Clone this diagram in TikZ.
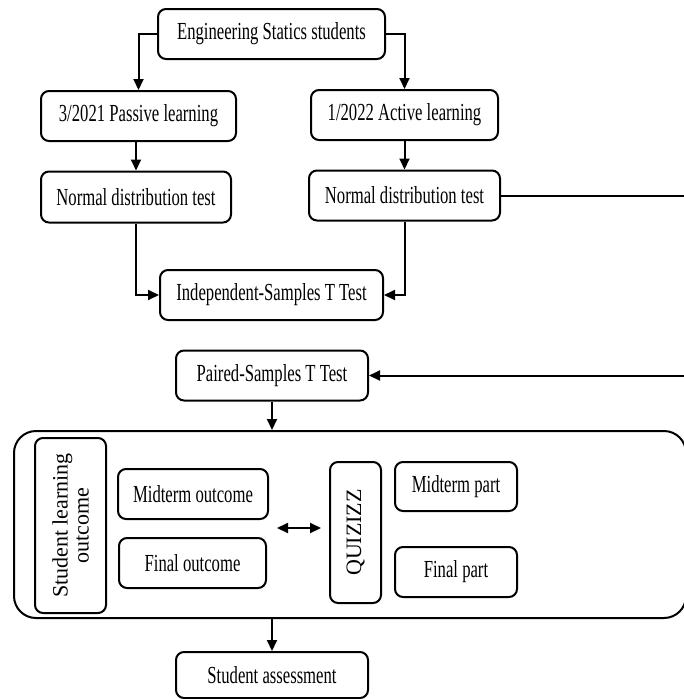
\documentclass[tikz,border=0pt]{standalone}
\usepackage{fontspec}
\setmainfont[FakeStretch=0.68]{Liberation Serif}
\newfontfamily\rotfont{Liberation Serif}
\usetikzlibrary{arrows.meta}
\begin{document}
\begin{tikzpicture}[x=1pt,y=-1pt,
  box/.style={draw, line width=2pt, rounded corners=8pt, inner sep=0pt, align=center,
    font=\fontsize{24.5}{27}\selectfont},
  rotbox/.style={box, rotate=90, font=\rotfont\fontsize{22}{21}\selectfont},
  arr/.style={line width=2pt, -{Triangle[length=11pt,width=10pt]}},
  dbl/.style={line width=2pt, {Triangle[length=11pt,width=10pt]}-{Triangle[length=11pt,width=10pt]}}]
\useasboundingbox (0,0) rectangle (684,699);
\clip (0,0) rectangle (684,699);
\node[box, minimum width=227, minimum height=50] (top) at (271.5,34) {Engineering Statics students};
\node[box, minimum width=195, minimum height=50] (pass) at (138.5,116) {3/2021 Passive learning};
\node[box, minimum width=187, minimum height=50] (act) at (404.5,115) {1/2022 Active learning};
\node[box, minimum width=190, minimum height=51] (nL) at (136,197) {Normal distribution test};
\node[box, minimum width=191, minimum height=50] (nR) at (404.5,195.5) {Normal distribution test};
\node[box, minimum width=223, minimum height=50] (ind) at (271.5,295) {Independent-Samples T Test};
\node[box, minimum width=192, minimum height=50] (pair) at (272,375.5) {Paired-Samples T Test};
\node[box, rounded corners=22pt, minimum width=672, minimum height=187] (outer) at (350,524.5) {};
\node[rotbox, minimum width=175, minimum height=71] (slo) at (70.5,525.5) {Student learning\\outcome};
\node[box, minimum width=150, minimum height=50] (mo) at (193,494) {Midterm outcome};
\node[box, minimum width=147, minimum height=50] (fo) at (192.5,563) {Final outcome};
\node[rotbox, minimum width=141, minimum height=51] (qz) at (355.5,532.5) {QUIZIZZ};
\node[box, minimum width=122, minimum height=49] (mp) at (456,486.5) {Midterm part};
\node[box, minimum width=122, minimum height=50] (fp) at (456,572) {Final part};
\node[box, minimum width=192, minimum height=46] (sa) at (272,675) {Student assessment};
\coordinate (dl) at (277,528);
\coordinate (dr) at (321,528);
\coordinate (c1) at (700,195.5);
\draw[arr] (top.west) -| (pass.north);
\draw[arr] (top.east) -| (act.north);
\draw[arr] (nL.north |- pass.south) -- (nL.north);
\draw[arr] (act.south) -- (nR.north);
\draw[arr] (nL.south) |- (ind.west);
\draw[arr] (nR.south) |- (ind.east);
\draw[arr] (nR.east) -- (c1) |- (pair.east);
\draw[arr] (pair.south) -- (outer.north -| pair.south);
\draw[arr] (outer.south -| sa.north) -- (sa.north);
\draw[dbl] (dl) -- (dr);
\end{tikzpicture}
\end{document}
